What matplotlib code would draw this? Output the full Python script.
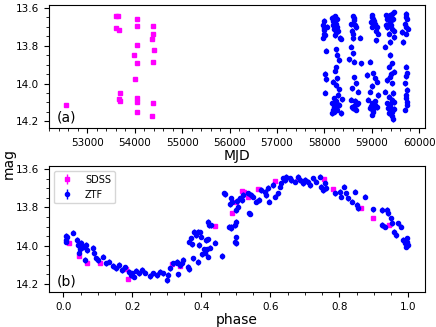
import numpy as np
import matplotlib
matplotlib.use("Agg")
import matplotlib.pyplot as plt
from matplotlib.ticker import AutoMinorLocator

# ---- panel (a): light curve vs MJD ----
sdss_mjd = [52543, 53607, 53650, 53607, 53664, 53679, 53664, 53686,
            54043, 54057, 54043, 53986, 54043, 54014, 54043, 54043, 54050,
            54379, 54386, 54357, 54400, 54379, 54386, 54357]
sdss_mag = [14.114, 13.644, 13.642, 13.705, 13.715, 14.051, 14.083, 14.092,
            13.659, 13.698, 13.799, 13.848, 13.889, 13.978, 14.079, 14.100, 14.153,
            13.696, 13.736, 13.763, 13.824, 13.887, 14.104, 14.170]

ztf_mjd = [57986, 57971, 58000, 57986, 58022, 57971, 58029, 58014, 58029, 58022,
           58060, 57990,
           58166, 58217, 58260, 58188, 58238, 58202, 58253, 58217, 58275, 58362,
           58238, 58275, 58311, 58217, 58275, 58188, 58238, 58311, 58202, 58166,
           58238, 58202, 58275, 58166, 58383, 58362, 58311,
           58190, 58230, 58280, 58250, 58210, 58290, 58180, 58330, 58240,
           58600, 58636, 58564, 58672, 58600, 58745, 58564, 58600, 58528, 58636,
           58781, 58636, 58578, 58672, 58708, 58564, 58636, 58600, 58708, 58672,
           58620, 58650, 58580, 58700, 58590, 58640, 58610,
           58998, 59034, 58983, 59070, 59106, 59128, 59085, 58962, 58911, 59034,
           59070, 59106, 58998, 58962, 59128, 58925, 58998, 59070, 58962, 59034,
           59106, 58998,
           59010, 59050, 59090, 58980, 59020, 59060, 59000,
           59301, 59359, 59432, 59468, 59395, 59323, 59432, 59359, 59468, 59395,
           59272, 59395, 59432, 59359, 59468, 59395, 59323, 59432, 59286, 59359,
           59432, 59323, 59395, 59468, 59359, 59432, 59395,
           59330, 59380, 59450, 59410, 59470, 59300, 59420, 59380, 59460, 59340,
           59440, 59400, 59440,
           59721, 59736, 59707, 59757, 59721, 59649, 59664, 59721, 59736, 59707,
           59743, 59721, 59736, 59707,
           59720, 59730, 59745, 59715, 59725]
ztf_mag = [13.670, 13.693, 13.719, 13.736, 13.745, 13.757, 13.827, 13.950, 13.978, 14.048,
           13.700, 13.705,
           13.652, 13.645, 13.658, 13.670, 13.684, 13.710, 13.728, 13.745, 13.701, 13.763,
           13.820, 13.850, 13.876, 13.932, 13.973, 13.990, 14.008, 14.030, 14.078, 14.104,
           14.121, 14.148, 14.139, 14.156, 14.083, 14.156, 14.113,
           13.690, 13.660, 13.725, 14.095, 14.125, 14.060, 14.140, 13.760, 13.915,
           13.645, 13.666, 13.687, 13.701, 13.736, 13.757, 13.806, 13.841, 13.873, 13.885,
           13.894, 13.967, 14.025, 13.999, 14.043, 14.086, 14.118, 14.130, 14.104, 14.139,
           13.655, 13.690, 13.720, 14.110, 14.125, 14.090, 13.760,
           13.640, 13.658, 13.675, 13.684, 13.701, 13.736, 13.771, 13.885, 13.955, 13.946,
           13.973, 13.990, 14.013, 14.043, 14.060, 14.086, 14.104, 14.113, 14.130, 14.148,
           14.125, 14.165,
           13.650, 13.670, 13.720, 14.120, 14.140, 14.095, 13.700,
           13.640, 13.649, 13.631, 13.623, 13.675, 13.701, 13.710, 13.736, 13.754, 13.780,
           13.806, 13.850, 13.894, 13.911, 13.938, 13.964, 13.981, 13.999, 14.043, 14.069,
           14.086, 14.104, 14.121, 14.135, 14.156, 14.174, 14.139,
           13.660, 13.640, 13.660, 13.690, 13.720, 13.690, 14.150, 14.110, 14.100, 14.130,
           14.190, 13.950, 14.050,
           13.631, 13.658, 13.684, 13.710, 13.736, 13.728, 13.780, 13.911, 13.946, 13.999,
           14.034, 14.078, 14.113, 14.139,
           13.650, 13.700, 14.100, 14.060, 13.960]

# ---- panel (b): folded light curve ----
sdss_phase = [0.017, 0.046, 0.070, 0.106, 0.181, 0.188, 0.314, 0.337, 0.440,
              0.488, 0.500, 0.517, 0.524, 0.534, 0.565, 0.614, 0.680, 0.754,
              0.780, 0.863, 0.896, 0.945]
sdss_pmag = [13.984, 14.054, 14.092, 14.089, 14.124, 14.176, 14.097, 14.106, 13.897,
             13.827, 13.769, 13.714, 13.720, 13.743, 13.701, 13.661, 13.651, 13.649,
             13.705, 13.804, 13.855, 13.893]

ztf_phase = [0.007, 0.009, 0.012, 0.007, 0.028, 0.040, 0.043, 0.048, 0.052, 0.046,
             0.057, 0.065, 0.068, 0.062, 0.086, 0.090, 0.095, 0.100, 0.114, 0.124,
             0.133, 0.143, 0.152, 0.162, 0.171, 0.179, 0.190, 0.195, 0.200, 0.204,
             0.211, 0.219, 0.228, 0.238, 0.252, 0.261, 0.271, 0.280, 0.290, 0.299,
             0.304, 0.309, 0.318, 0.328, 0.337, 0.347, 0.361, 0.375, 0.364, 0.371,
             0.380, 0.385, 0.390, 0.399, 0.394, 0.407, 0.413, 0.420, 0.423, 0.418,
             0.416, 0.329, 0.333, 0.343, 0.363, 0.372, 0.390, 0.396, 0.401, 0.411,
             0.419, 0.425, 0.428, 0.440, 0.459,
             0.466, 0.469, 0.483, 0.503, 0.486, 0.496, 0.501, 0.541,
             0.481, 0.486, 0.499, 0.496, 0.499, 0.485, 0.490, 0.500, 0.505,
             0.512, 0.518, 0.520, 0.539, 0.534, 0.544, 0.549, 0.559, 0.568,
             0.573, 0.583, 0.588, 0.592, 0.597, 0.607, 0.612, 0.622, 0.627, 0.632,
             0.636, 0.641, 0.646, 0.656, 0.660, 0.670, 0.680, 0.685, 0.695, 0.700,
             0.710, 0.714, 0.723, 0.733, 0.743, 0.748, 0.752, 0.757, 0.762,
             0.786, 0.801, 0.806, 0.812, 0.818, 0.825, 0.835, 0.845, 0.850, 0.855,
             0.874, 0.896, 0.924, 0.923, 0.933, 0.937, 0.942, 0.949, 0.952, 0.957,
             0.964, 0.971, 0.978, 0.985, 0.990, 0.995, 1.000, 0.993, 0.997]
ztf_pmag = [13.949, 13.970, 13.956, 13.979, 13.932, 13.970, 13.996, 14.019, 13.984, 14.036,
            14.008, 13.996, 14.022, 14.075, 14.010, 14.040, 14.066, 14.075, 14.057, 14.092,
            14.083, 14.106, 14.118, 14.101, 14.127, 14.113, 14.136, 14.153, 14.144, 14.162,
            14.130, 14.144, 14.127, 14.141, 14.158, 14.144, 14.153, 14.136, 14.144, 14.179,
            14.153, 14.118, 14.092, 14.083, 14.101, 14.075, 14.110, 14.066, 13.979, 13.961,
            13.926, 13.944, 13.926, 13.953, 13.996, 14.019, 13.970, 13.874, 13.891, 14.057,
            14.019, 14.089, 14.150, 14.089, 14.124, 13.993, 14.085, 13.930, 14.045, 14.037,
            13.967, 14.010, 13.893, 13.984, 14.054,
            13.726, 13.731, 13.783, 13.766, 13.902, 13.894, 13.988, 13.832,
            13.900, 13.909, 13.874, 13.979, 13.956, 13.752, 13.769, 13.813, 13.795,
            13.752, 13.760, 13.734, 13.830, 13.726, 13.734, 13.743, 13.769, 13.760,
            13.708, 13.717, 13.734, 13.699, 13.769, 13.682, 13.743, 13.726, 13.691, 13.673,
            13.647, 13.656, 13.638, 13.647, 13.656, 13.665, 13.638, 13.656, 13.673, 13.656,
            13.665, 13.682, 13.647, 13.665, 13.638, 13.691, 13.708, 13.673, 13.700,
            13.726, 13.717, 13.743, 13.691, 13.726, 13.752, 13.769, 13.717, 13.787, 13.804,
            13.743, 13.809, 13.813, 13.891, 13.900, 13.813, 13.830, 13.857, 13.883, 13.926,
            13.944, 13.883, 13.900, 13.970, 13.987, 13.961, 13.996, 14.005, 13.979]

sdss_err = 0.006
ztf_err = 0.014


def draw(ax, xs, ms, xz, mz):
    ax.errorbar(xs, ms, yerr=sdss_err, fmt='s', color='magenta', ms=3.5,
                elinewidth=1, label='SDSS', zorder=2)
    ax.errorbar(xz, mz, yerr=ztf_err, fmt='o', color='blue', ms=3,
                elinewidth=1, label='ZTF', zorder=3)
    ax.yaxis.set_minor_locator(AutoMinorLocator())
    ax.xaxis.set_minor_locator(AutoMinorLocator())
    ax.tick_params(labelsize=7.5)
    ax.set_yticks([13.6, 13.8, 14.0, 14.2])


fig = plt.figure(figsize=(4.36, 3.27), dpi=100)
ax1 = fig.add_axes([0.1124, 0.6086, 0.8624, 0.3761])
ax2 = fig.add_axes([0.1124, 0.107, 0.8624, 0.3854])

draw(ax1, sdss_mjd, sdss_mag, ztf_mjd, ztf_mag)
ax1.set_xlim(52190, 60125)
ax1.set_ylim(14.235, 13.585)
ax1.set_xticks(np.arange(53000, 60001, 1000))
ax1.set_xlabel('MJD', fontsize=10, labelpad=1)
ax1.text(0.02, 0.05, '(a)', transform=ax1.transAxes, fontsize=10)

draw(ax2, sdss_phase, sdss_pmag, ztf_phase, ztf_pmag)
ax2.set_xlim(-0.0415, 1.048)
ax2.set_ylim(14.242, 13.583)
ax2.set_xticks([0.0, 0.2, 0.4, 0.6, 0.8, 1.0])
ax2.set_xlabel('phase', fontsize=10, labelpad=1)
ax2.text(0.02, 0.05, '(b)', transform=ax2.transAxes, fontsize=10)
ax2.legend(loc='upper left', fontsize=7)

fig.text(0.02, 0.5, 'mag', rotation=90, va='center', ha='center', fontsize=10)

fig.savefig('out.png', dpi=100)
